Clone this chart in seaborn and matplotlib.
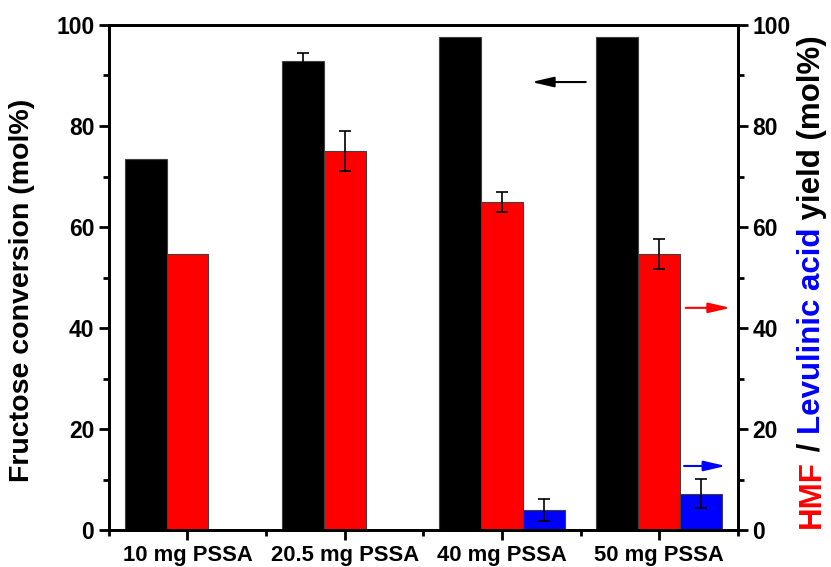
import numpy as np
import pandas as pd
import matplotlib
matplotlib.use('Agg')
import matplotlib.pyplot as plt
from matplotlib.ticker import MultipleLocator, FixedLocator
import seaborn as sns

# Data
groups     = ['10 mg PSSA', '20.5 mg PSSA', '40 mg PSSA', '50 mg PSSA']
conversion = [73.4, 92.8, 97.7, 97.7]
conv_err   = [0.0, 1.7, 0.0, 0.0]
hmf        = [54.6, 75.1, 65.0, 54.7]
hmf_err    = [0.0, 4.0, 2.0, 3.0]
la_groups  = ['40 mg PSSA', '50 mg PSSA']
la         = [4.0, 7.2]
la_err     = [2.1, 2.9]

series = ['Conversion', 'HMF', 'LA']
colors = {'Conversion': '#000000', 'HMF': '#FF0000', 'LA': '#0000FF'}

rows = []
for g, v, e in zip(groups, conversion, conv_err):
    rows.append({'group': g, 'series': 'Conversion', 'value': v, 'err': e})
for g, v, e in zip(groups, hmf, hmf_err):
    rows.append({'group': g, 'series': 'HMF', 'value': v, 'err': e})
for g, v, e in zip(la_groups, la, la_err):
    rows.append({'group': g, 'series': 'LA', 'value': v, 'err': e})
df = pd.DataFrame(rows)

sns.set_style('ticks')
plt.rcParams['font.family'] = ['Liberation Sans', 'DejaVu Sans']
plt.rcParams['font.weight'] = 'bold'
plt.rcParams['text.color'] = 'black'
plt.rcParams['axes.labelcolor'] = 'black'
plt.rcParams['xtick.color'] = 'black'
plt.rcParams['ytick.color'] = 'black'
plt.rcParams['axes.edgecolor'] = 'black'

fig = plt.figure(figsize=(8.31, 5.67), dpi=100)
ax = fig.add_axes([0.131, 0.065, 0.757, 0.891])

sns.barplot(data=df, x='group', y='value', hue='series', order=groups,
            hue_order=series, palette=colors, saturation=1, errorbar=None, width=0.8,
            edgecolor='#404040', linewidth=0.8, legend=False, ax=ax)

# error bars from the bar positions
for cont, s in zip(ax.containers, series):
    sub = df[df['series'] == s]
    for patch, (_, r) in zip(cont.patches, sub.iterrows()):
        if r['err'] > 0:
            ax.errorbar(patch.get_x() + patch.get_width() / 2, r['value'], yerr=r['err'],
                        color='black', capsize=4, elinewidth=1.2, capthick=1.2, fmt='none')

ax.set_xlim(-0.5, 3.5)
ax.set_ylim(0, 100)
ax.set_xlabel('')
ax.set_ylabel('Fructose conversion (mol%)', fontsize=20.5, fontweight='bold')
ax.yaxis.set_label_coords(-0.118, 0.475)
ax.yaxis.set_major_locator(MultipleLocator(20))
ax.yaxis.set_minor_locator(MultipleLocator(10))
ax.xaxis.set_minor_locator(FixedLocator([-0.5, 0.5, 1.5, 2.5, 3.5]))
ax.tick_params(axis='y', which='major', labelsize=16.5, width=2, length=7, direction='out')
ax.tick_params(axis='y', which='minor', width=2, length=4, direction='out')
ax.tick_params(axis='x', which='major', labelsize=15.8, width=2, length=7, direction='out', pad=4)
ax.tick_params(axis='x', which='minor', width=2, length=4, direction='out')
for sp in ax.spines.values():
    sp.set_linewidth(2)
    sp.set_visible(True)

ax2 = ax.twinx()
ax2.set_ylim(0, 100)
ax2.yaxis.set_major_locator(MultipleLocator(20))
ax2.yaxis.set_minor_locator(MultipleLocator(10))
ax2.tick_params(axis='y', which='major', labelsize=16.5, width=2, length=7, direction='out')
ax2.tick_params(axis='y', which='minor', width=2, length=4, direction='out')
for sp in ax2.spines.values():
    sp.set_linewidth(2)
for lbl in ax.get_yticklabels() + ax2.get_yticklabels() + ax.get_xticklabels():
    lbl.set_fontweight('bold')

# multi-coloured right label
parts = [('HMF', '#FF0000'), (' / ', 'black'), ('Levulinic acid', '#0000FF'),
         (' yield (mol%)', 'black')]
prev = ax2.text(1.117, 0.004, parts[0][0], color=parts[0][1], rotation=90,
                transform=ax2.transAxes, ha='center', va='bottom',
                fontsize=22.5, fontweight='bold')
for txt, col in parts[1:]:
    prev = ax2.annotate(txt, xy=(0.5, 1), xycoords=prev, ha='center', va='bottom',
                        rotation=90, color=col, fontsize=22.5, fontweight='bold')

# direction arrows
arrow_kw = dict(arrowstyle='-|>,head_length=0.95,head_width=0.22', lw=1.5, mutation_scale=14)
ax.annotate('', xy=(2.17, 88.7), xytext=(2.55, 88.7),
            arrowprops=dict(color='black', **arrow_kw))
ax.annotate('', xy=(3.47, 44), xytext=(3.15, 44),
            arrowprops=dict(color='#FF0000', **arrow_kw))
ax.annotate('', xy=(3.44, 12.7), xytext=(3.14, 12.7),
            arrowprops=dict(color='#0000FF', **arrow_kw))

plt.savefig('out.png', dpi=100)
